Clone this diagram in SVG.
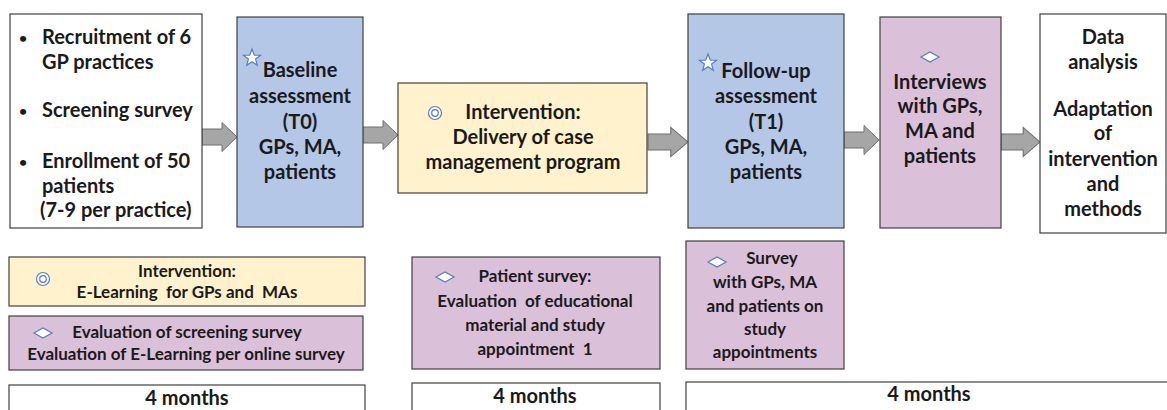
<svg xmlns="http://www.w3.org/2000/svg" width="1167" height="410" viewBox="0 0 1167 410">
<defs>
<style>
.box{stroke:#404040;stroke-width:1.2}
.w{fill:#ffffff}
.blue{fill:#b4c7e7}
.yel{fill:#fff2cc}
.pur{fill:#dbc0da}
text{font-family:Lato,"Open Sans","Liberation Sans",sans-serif;font-weight:bold;fill:#1a1a1a}
.t17{font-size:20px}
.t15{font-size:17px}
.bul{font-size:14px}
.c{text-anchor:middle}
.arr{fill:#a6a6a6;stroke:#6f6f6f;stroke-width:1}
.icn{fill:#ffffff;stroke:#5a7cc0;stroke-width:1.2}
</style>
<g id="arrowShape"><path d="M0,-8 L20,-8 L20,-14.5 L35,0 L20,14.5 L20,8 L0,8 Z"/></g>
<g id="star"><path d="M0,-9 L2.3,-2.9 L8.6,-2.8 L3.6,1.1 L5.3,7.3 L0,3.7 L-5.3,7.3 L-3.6,1.1 L-8.6,-2.8 L-2.3,-2.9 Z"/></g>
<g id="ring"><circle r="6.5"/><circle r="3.3"/></g>
<g id="diam"><path d="M-9,0 L0,-5 L9,0 L0,5 Z"/></g>
</defs>
<rect width="1167" height="410" fill="#ffffff"/>

<g id="connectors">
<use href="#arrowShape" class="arr" x="202" y="137"/>
<use href="#arrowShape" class="arr" x="363" y="135"/>
<use href="#arrowShape" class="arr" transform="translate(648,142) scale(1.14,1)"/>
<use href="#arrowShape" class="arr" x="844" y="140"/>
<use href="#arrowShape" class="arr" transform="translate(1001,142) scale(1.11,1)"/>
</g>

<g id="node-recruitment">
<rect class="box w" x="10" y="14" width="192" height="214"/>
<text class="bul" x="19" y="43">•</text>
<text class="t17" x="42" y="44">Recruitment of 6</text>
<text class="t17" x="42" y="69">GP practices</text>
<text class="bul" x="19" y="116">•</text>
<text class="t17" x="42" y="117">Screening survey</text>
<text class="bul" x="19" y="167">•</text>
<text class="t17" x="42" y="168">Enrollment of 50</text>
<text class="t17" x="42" y="193">patients</text>
<text class="t17" x="40" y="217">(7-9 per practice)</text>
</g>

<g id="node-baseline">
<rect class="box blue" x="237" y="17" width="126" height="210"/>
<use href="#star" class="icn" x="252" y="58"/>
<text class="t17 c" x="300" y="77">Baseline</text>
<text class="t17 c" x="300" y="103">assessment</text>
<text class="t17 c" x="300" y="129">(T0)</text>
<text class="t17 c" x="300" y="154">GPs, MA,</text>
<text class="t17 c" x="300" y="179">patients</text>
</g>

<g id="node-intervention">
<rect class="box yel" x="398" y="83" width="249" height="110"/>
<use href="#ring" class="icn" x="435" y="113"/>
<text class="t17 c" x="523" y="119">Intervention:</text>
<text class="t17 c" x="523" y="144">Delivery of case</text>
<text class="t17 c" x="523" y="169">management program</text>
</g>

<g id="node-followup">
<rect class="box blue" x="688" y="14" width="156" height="214"/>
<use href="#star" class="icn" x="708" y="63"/>
<text class="t17 c" x="766" y="78">Follow-up</text>
<text class="t17 c" x="766" y="103">assessment</text>
<text class="t17 c" x="766" y="129">(T1)</text>
<text class="t17 c" x="766" y="154">GPs, MA,</text>
<text class="t17 c" x="766" y="179">patients</text>
</g>

<g id="node-interviews">
<rect class="box pur" x="880" y="17" width="121" height="211"/>
<use href="#diam" class="icn" x="930" y="57"/>
<text class="t17 c" x="940" y="89">Interviews</text>
<text class="t17 c" x="940" y="113">with GPs,</text>
<text class="t17 c" x="940" y="138">MA and</text>
<text class="t17 c" x="940" y="163">patients</text>
</g>

<g id="node-analysis">
<rect class="box w" x="1040" y="14" width="126" height="219"/>
<text class="t17 c" x="1103" y="44">Data</text>
<text class="t17 c" x="1103" y="69">analysis</text>
<text class="t17 c" x="1103" y="116">Adaptation</text>
<text class="t17 c" x="1103" y="140">of</text>
<text class="t17 c" x="1103" y="166">intervention</text>
<text class="t17 c" x="1103" y="191">and</text>
<text class="t17 c" x="1103" y="216">methods</text>
</g>

<g id="node-elearning">
<rect class="box yel" x="9" y="257" width="356" height="49"/>
<use href="#ring" class="icn" x="43" y="279"/>
<text class="t15 c" x="187" y="277">Intervention:</text>
<text class="t15 c" x="187" y="298" xml:space="preserve">E-Learning  for GPs and  MAs</text>
</g>

<g id="node-eval1">
<rect class="box pur" x="9" y="316" width="354" height="54"/>
<use href="#diam" class="icn" x="43" y="333"/>
<text class="t15 c" x="187" y="338">Evaluation of screening survey</text>
<text class="t15 c" x="186" y="360">Evaluation of E-Learning per online survey</text>
</g>

<g id="node-months1">
<rect class="box w" x="9" y="385" width="356" height="40"/>
<text class="t17 c" x="187" y="405">4 months</text>
</g>

<g id="node-patient-survey">
<rect class="box pur" x="412" y="257" width="248" height="112"/>
<use href="#diam" class="icn" x="445" y="277"/>
<text class="t15 c" x="535" y="282">Patient survey:</text>
<text class="t15 c" x="535" y="307" xml:space="preserve">Evaluation  of educational</text>
<text class="t15 c" x="535" y="331">material and study</text>
<text class="t15 c" x="535" y="355" xml:space="preserve">appointment  1</text>
</g>

<g id="node-months2">
<rect class="box w" x="412" y="383" width="248" height="40"/>
<text class="t17 c" x="535" y="403">4 months</text>
</g>

<g id="node-survey">
<rect class="box pur" x="686" y="241" width="158" height="128"/>
<use href="#diam" class="icn" x="717" y="262"/>
<text class="t15 c" x="772" y="264">Survey</text>
<text class="t15 c" x="765" y="288">with GPs, MA</text>
<text class="t15 c" x="765" y="312">and patients on</text>
<text class="t15 c" x="765" y="335">study</text>
<text class="t15 c" x="765" y="358">appointments</text>
</g>

<g id="node-months3">
<rect class="box w" x="686" y="382" width="490" height="40"/>
<text class="t17 c" x="929" y="401">4 months</text>
</g>
</svg>
